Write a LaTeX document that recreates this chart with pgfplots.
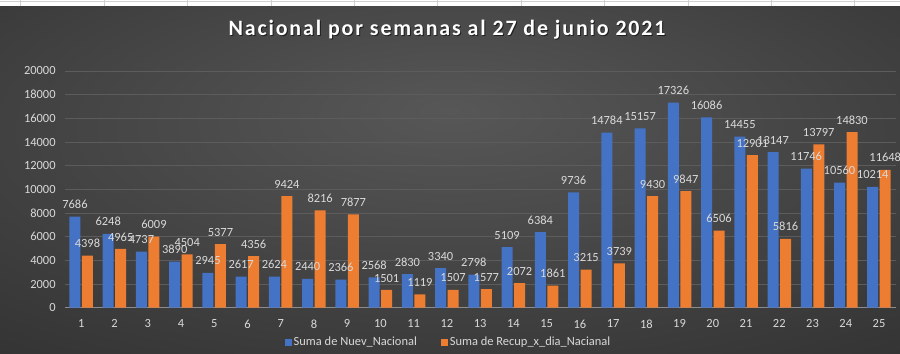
\documentclass[border=0pt]{standalone}
\usepackage{pgfplots}
\pgfplotsset{compat=1.18}
\usepackage{fontspec}
\setmainfont{Carlito}
\definecolor{cblue}{HTML}{4472C4}
\definecolor{corange}{HTML}{ED7D31}
\definecolor{lbl}{HTML}{D9D9D9}
\definecolor{gridc}{HTML}{5C5C5C}
\definecolor{bgin}{HTML}{575757}
\definecolor{bgout}{HTML}{262626}
\definecolor{cellc}{HTML}{D0D0D0}
\pgfdeclareradialshading{bgshade}{\pgfpoint{0bp}{10bp}}{color(0bp)=(bgin); color(55bp)=(bgout); color(80bp)=(bgout)}
\newfontfamily\titlefont[LetterSpace=8.5]{Carlito}
\begin{document}
\begin{tikzpicture}[x=1bp,y=1bp]
\path[use as bounding box] (0,0) rectangle (900,353);
\shade[shading=bgshade] (0,0) rectangle (900,347);
\fill[white] (0,347) rectangle (900,353);
\foreach \x in {20.7,104.1,187.5,270.9,354.3,437.7,521.1,604.5,687.9,771.3,854.7}
  \draw[cellc, line width=0.8bp] (\x,347) -- (\x,353);
\draw[cellc, line width=0.8bp] (0,352) -- (900,352);
\node[text=black, opacity=0.6, font=\titlefont\bfseries\fontsize{22}{26}\selectfont] at (448,322) {Nacional por semanas al 27 de junio 2021};
\node[text=white, font=\titlefont\bfseries\fontsize{22}{26}\selectfont] at (447,323) {Nacional por semanas al 27 de junio 2021};
\begin{axis}[
  at={(64.6bp,45.3bp)}, anchor=south west, scale only axis,
  width=831bp, height=236.7bp,
  xmin=0.5, xmax=25.5, ymin=0, ymax=20000,
  ybar=1.5bp, bar width=11bp,
  xtick={1,...,25}, ytick={0,2000,...,20000},
  scaled y ticks=false,
  /pgf/number format/1000 sep={},
  /pgf/number format/assume math mode=true,
  ymajorgrids, major grid style={gridc, line width=0.8bp},
  axis lines*=left,
  x axis line style={draw=white!55!black, line width=0.8bp},
  y axis line style={draw=none},
  major tick length=0pt,
  tick label style={font=\fontsize{12.5}{14}\selectfont, text=lbl},
  xticklabel style={yshift=-8.5bp},
  yticklabel style={xshift=-5.5bp},
  nodes near coords,
  nodes near coords style={font=\fontsize{12.5}{14}\selectfont, text=lbl, yshift=4.3bp},
  legend style={at={(0.462,-0.145)}, anchor=center, draw=none, fill=none,
    text=lbl, font=\fontsize{12.5}{14}\selectfont, legend columns=2,
    /tikz/every even column/.append style={column sep=22bp}},
]
\addplot[fill=cblue, draw=none, legend image code/.code={\fill[cblue] (0bp,-3.5bp) rectangle (7bp,3.5bp);}] coordinates {
(1,7686) (2,6248) (3,4737) (4,3890) (5,2945) (6,2617) (7,2624) (8,2440) (9,2366) (10,2568)
(11,2830) (12,3340) (13,2798) (14,5109) (15,6384) (16,9736) (17,14784) (18,15157) (19,17326) (20,16086)
(21,14455) (22,13147) (23,11746) (24,10560) (25,10214)};
\addlegendentry{Suma de Nuev\_Nacional}
\addplot[fill=corange, draw=none, legend image code/.code={\fill[corange] (0bp,-3.5bp) rectangle (7bp,3.5bp);}] coordinates {
(1,4398) (2,4965) (3,6009) (4,4504) (5,5377) (6,4356) (7,9424) (8,8216) (9,7877) (10,1501)
(11,1119) (12,1507) (13,1577) (14,2072) (15,1861) (16,3215) (17,3739) (18,9430) (19,9847) (20,6506)
(21,12901) (22,5816) (23,13797) (24,14830) (25,11648)};
\addlegendentry{Suma de Recup\_x\_dia\_Nacianal}
\end{axis}
\end{tikzpicture}
\end{document}
